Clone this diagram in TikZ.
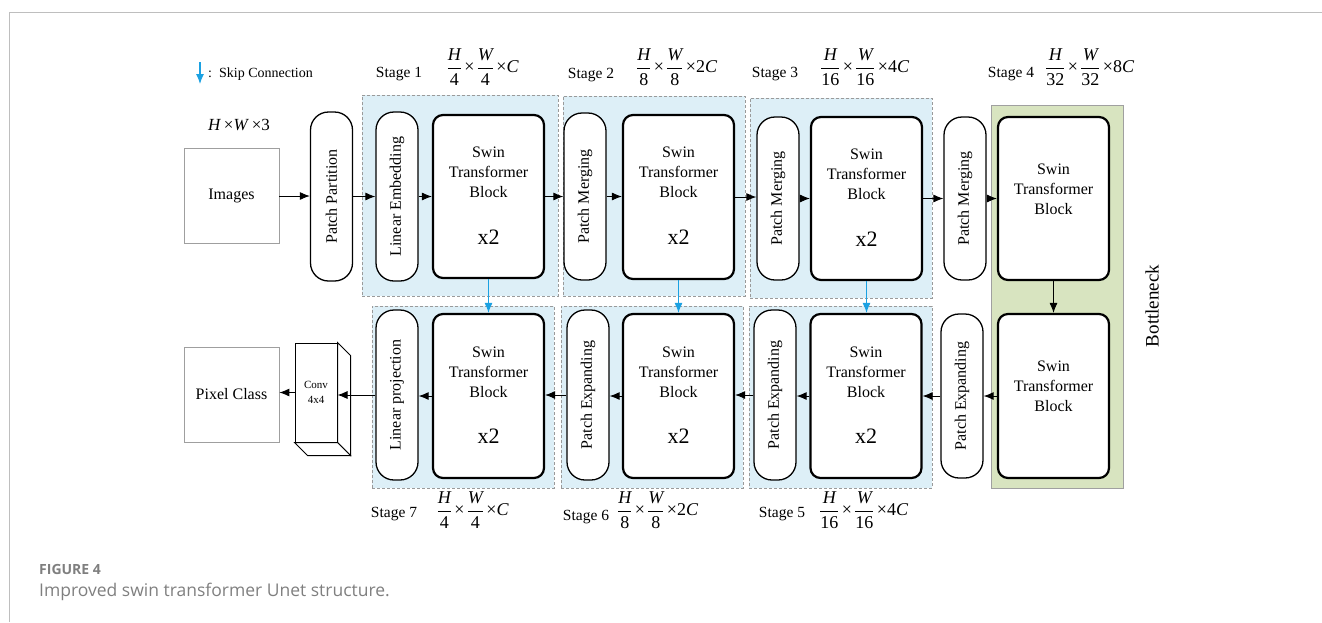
\RequirePackage{fix-cm}
\documentclass[tikz,border=0pt]{standalone}
\usepackage{fontspec}
\usepackage{amsmath}
\setmainfont{Liberation Serif}
\newfontfamily\capfont{Open Sans}
\usetikzlibrary{arrows.meta,calc}

\definecolor{stagebg}{HTML}{DDEFF7}
\definecolor{stageline}{HTML}{9A9A9A}
\definecolor{neckbg}{HTML}{D8E4C0}
\definecolor{neckline}{HTML}{A0A0A0}
\definecolor{skipblue}{HTML}{1BA1E2}
\definecolor{framegray}{HTML}{BEBEBE}
\definecolor{capgray}{HTML}{7F7F7F}

% size label: H/a x W/b x c
\newcommand\dimfrac[3]{\nulldelimiterspace=0.5pt$\dfrac{\textit{H}}{\text{#1}}\text{\,×\,}\dfrac{\textit{W}}{\text{#2}}\text{\,×#3}$}

\begin{document}
\begin{tikzpicture}[x=1pt,y=-1pt,
  stagebox/.style={draw=stageline, dash pattern=on 3pt off 2pt, fill=stagebg, line width=0.8pt, inner sep=0pt},
  neckbox/.style={draw=neckline, fill=neckbg, line width=0.9pt, inner sep=0pt},
  pill/.style={draw, line width=1.3pt, rounded corners=18pt, fill=white, minimum width=42pt, inner sep=0pt},
  swin/.style={draw, line width=2.2pt, rounded corners=10pt, fill=white, minimum width=111pt, minimum height=164pt, inner sep=0pt},
  plainbox/.style={draw=gray!75, line width=0.8pt, fill=white, minimum width=95pt, minimum height=95pt, inner sep=0pt, font=\fontsize{16}{19}\selectfont},
  vtxt/.style={rotate=90, inner sep=0pt, font=\fontsize{16}{19}\selectfont},
  swt/.style={align=center, inner sep=0pt, font=\fontsize{16}{20}\selectfont},
  rep/.style={inner sep=0pt, font=\fontsize{22}{24}\selectfont},
  lbl/.style={inner sep=0pt, font=\fontsize{15.5}{18}\selectfont},
  dimlbl/.style={inner sep=0pt, font=\fontsize{18}{21}\selectfont},
  arr/.style={-{Latex[length=10pt,width=8pt]}, line width=0.9pt},
  skip/.style={draw=skipblue, -{Latex[length=10pt,width=8pt]}, line width=1.1pt}
]
\useasboundingbox (0,0) rectangle (1322,622);

% page frame
\draw[framegray, line width=1pt] (9,622) -- (9,12) -- (1322,12);

% legend
\coordinate (lg1) at (200,62);
\coordinate (lg2) at (200,84);
\draw[skip] (lg1) -- (lg2);
\node[anchor=west, inner sep=0pt, font=\fontsize{14}{16}\selectfont] (lgtxt) at (208,74) {:\hspace{7pt}Skip Connection};

% stage backgrounds
\node[stagebox, minimum width=196pt, minimum height=201pt] (st1) at (460,195.5) {};
\node[stagebox, minimum width=182pt, minimum height=200pt] (st2) at (654,196) {};
\node[stagebox, minimum width=182pt, minimum height=200pt] (st3) at (841,198) {};
\node[stagebox, minimum width=183pt, minimum height=182pt] (st5) at (840.5,397) {};
\node[stagebox, minimum width=182pt, minimum height=182pt] (st6) at (652,397) {};
\node[stagebox, minimum width=182pt, minimum height=182pt] (st7) at (463,397) {};
\node[neckbox, minimum width=132pt, minimum height=383pt] (neck) at (1057,296.5) {};

% encoder row
\node[plainbox] (img) at (231.5,196) {Images};
\node[inner sep=0pt, font=\fontsize{17}{20}\selectfont] (imgdim) at (239,125) {\textit{H}\,×\textit{W}\,×3};

\node[pill, minimum height=169pt] (pp) at (331.5,196.5) {};
\node[vtxt] (ppt) at (pp) {Patch Partition};

\node[pill, minimum height=169pt] (le) at (397,196.5) {};
\node[vtxt] (let) at (le) {Linear Embedding};

\node[swin, minimum height=163pt] (sw1) at (488.5,196.5) {};
\node[swt] (sw1t) at ([yshift=24.5pt]sw1.center) {Swin\\Transformer\\Block};
\node[rep] (sw1x) at ([yshift=-40.5pt]sw1.center) {x2};

\node[pill, minimum height=167pt] (pm2) at (585,196.5) {};
\node[vtxt] (pm2t) at (pm2) {Patch Merging};

\node[swin] (sw2) at (678.5,197) {};
\node[swt] (sw2t) at ([yshift=24.5pt]sw2.center) {Swin\\Transformer\\Block};
\node[rep] (sw2x) at ([yshift=-40.5pt]sw2.center) {x2};

\node[pill, minimum height=163pt] (pm3) at (778,198.5) {};
\node[vtxt] (pm3t) at (pm3) {Patch Merging};

\node[swin, minimum height=163pt] (sw3) at (866.5,198.5) {};
\node[swt] (sw3t) at ([yshift=24.5pt]sw3.center) {Swin\\Transformer\\Block};
\node[rep] (sw3x) at ([yshift=-40.5pt]sw3.center) {x2};

\node[pill, minimum height=163pt] (pm4) at (965,198.5) {};
\node[vtxt] (pm4t) at (pm4) {Patch Merging};

% bottleneck
\node[swin, minimum height=163pt] (sw4) at (1053.5,198.5) {};
\node[swt] (sw4t) at ([yshift=9.5pt]sw4.center) {Swin\\Transformer\\Block};
\node[swin] (sw4b) at (1053.5,396) {};
\node[swt] (sw4bt) at ([yshift=9.5pt]sw4b.center) {Swin\\Transformer\\Block};
\node[rotate=90, inner sep=0pt, font=\fontsize{19}{22}\selectfont] (necklbl) at (1152,306) {Bottleneck};

% decoder row
\node[pill, minimum height=164pt] (pe4) at (962,396) {};
\node[vtxt] (pe4t) at (pe4) {Patch Expanding};

\node[swin] (sw5) at (866,396) {};
\node[swt] (sw5t) at ([yshift=24pt]sw5.center) {Swin\\Transformer\\Block};
\node[rep] (sw5x) at ([yshift=-40.5pt]sw5.center) {x2};

\node[pill, minimum height=170pt] (pe5) at (775,395) {};
\node[vtxt] (pe5t) at (pe5) {Patch Expanding};

\node[swin] (sw6) at (678.5,396) {};
\node[swt] (sw6t) at ([yshift=24pt]sw6.center) {Swin\\Transformer\\Block};
\node[rep] (sw6x) at ([yshift=-40.5pt]sw6.center) {x2};

\node[pill, minimum height=170pt] (pe6) at (588,395) {};
\node[vtxt] (pe6t) at (pe6) {Patch Expanding};

\node[swin] (sw7) at (488.5,396) {};
\node[swt] (sw7t) at ([yshift=24pt]sw7.center) {Swin\\Transformer\\Block};
\node[rep] (sw7x) at ([yshift=-40.5pt]sw7.center) {x2};

\node[pill, minimum height=170pt] (lp) at (397,395) {};
\node[vtxt] (lpt) at (lp) {Linear projection};

% 4x4 convolution drawn as a box
\node[draw, line width=1pt, fill=white, minimum width=42pt, minimum height=99pt, inner sep=0pt] (conv) at (316,392.5) {};
\draw[line width=1pt, fill=white] (conv.north east) -- ++(13,13) -- ([shift={(13,13)}]conv.south east) -- (conv.south east) -- cycle;
\draw[line width=1pt, fill=white] (conv.south west) -- ++(13,13) -- ([shift={(13,13)}]conv.south east) -- (conv.south east) -- cycle;
\node[align=center, inner sep=0pt, font=\fontsize{11}{15}\selectfont] (convt) at (conv) {Conv\\4x4};

\node[plainbox] (pc) at (231.5,394.5) {Pixel Class};

% stage labels
\node[lbl] (s1) at (399,74) {Stage 1};
\node[dimlbl] (s1d) at (483,67) {\dimfrac{4}{4}{\textit{C}}};
\node[lbl] (s2) at (591,75) {Stage 2};
\node[dimlbl] (s2d) at (677,67) {\dimfrac{8}{8}{2\textit{C}}};
\node[lbl] (s3) at (775,74) {Stage 3};
\node[dimlbl] (s3d) at (865,67) {\dimfrac{16}{16}{4\textit{C}}};
\node[lbl] (s4) at (1011,74) {Stage 4};
\node[dimlbl] (s4d) at (1090,67) {\dimfrac{32}{32}{8\textit{C}}};
\node[lbl] (s7) at (394,514) {Stage 7};
\node[dimlbl] (s7d) at (473,510) {\dimfrac{4}{4}{\textit{C}}};
\node[lbl] (s6) at (586,517) {Stage 6};
\node[dimlbl] (s6d) at (658,510) {\dimfrac{8}{8}{2\textit{C}}};
\node[lbl] (s5) at (782,514) {Stage 5};
\node[dimlbl] (s5d) at (864,510) {\dimfrac{16}{16}{4\textit{C}}};

% encoder connectors
\draw[arr] (img.east) -- (img.east -| pp.west);
\draw[arr] (pp.east) -- (pp.east -| le.west);
\draw[arr] (le.east) -- (le.east -| sw1.west);
\draw[arr] (sw1.east) -- (sw1.east -| pm2.west);
\draw[arr] (pm2.east) -- (pm2.east -| sw2.west);
\draw[arr] (sw2.east) -- (sw2.east -| pm3.west);
\draw[arr] (pm3.east) -- (pm3.east -| sw3.west);
\draw[arr] (sw3.east) -- (sw3.east -| pm4.west);
\draw[arr] (pm4.east) -- (pm4.east -| sw4.west);
\draw[arr] (sw4.south) -- (sw4b.north);

% decoder connectors
\draw[arr] (sw4b.west) -- (sw4b.west -| pe4.east);
\draw[arr] (pe4.west) -- (pe4.west -| sw5.east);
\draw[arr] (sw5.west) -- (sw5.west -| pe5.east);
\draw[arr] (pe5.west) -- (pe5.west -| sw6.east);
\draw[arr] (sw6.west) -- (sw6.west -| pe6.east);
\draw[arr] (pe6.west) -- (pe6.west -| sw7.east);
\draw[arr] (sw7.west) -- (sw7.west -| lp.east);
\draw[arr] (lp.west) -- (lp.west -| conv.east);
\draw[arr] (conv.west) -- (conv.west -| pc.east);

% skip connections
\draw[skip] (sw1.south) -- (sw1.south |- sw7.north);
\draw[skip] (sw2.south) -- (sw2.south |- sw6.north);
\draw[skip] (sw3.south) -- (sw3.south |- sw5.north);

% caption
\node[anchor=west, inner sep=0pt, text=capgray, font=\capfont\bfseries\fontsize{14}{16}\selectfont] (figno) at (39,569) {FIGURE 4};
\node[anchor=west, inner sep=0pt, text=capgray, font=\capfont\fontsize{17.5}{20}\selectfont] (figcap) at (39,592) {Improved swin transformer Unet structure.};
\end{tikzpicture}
\end{document}
